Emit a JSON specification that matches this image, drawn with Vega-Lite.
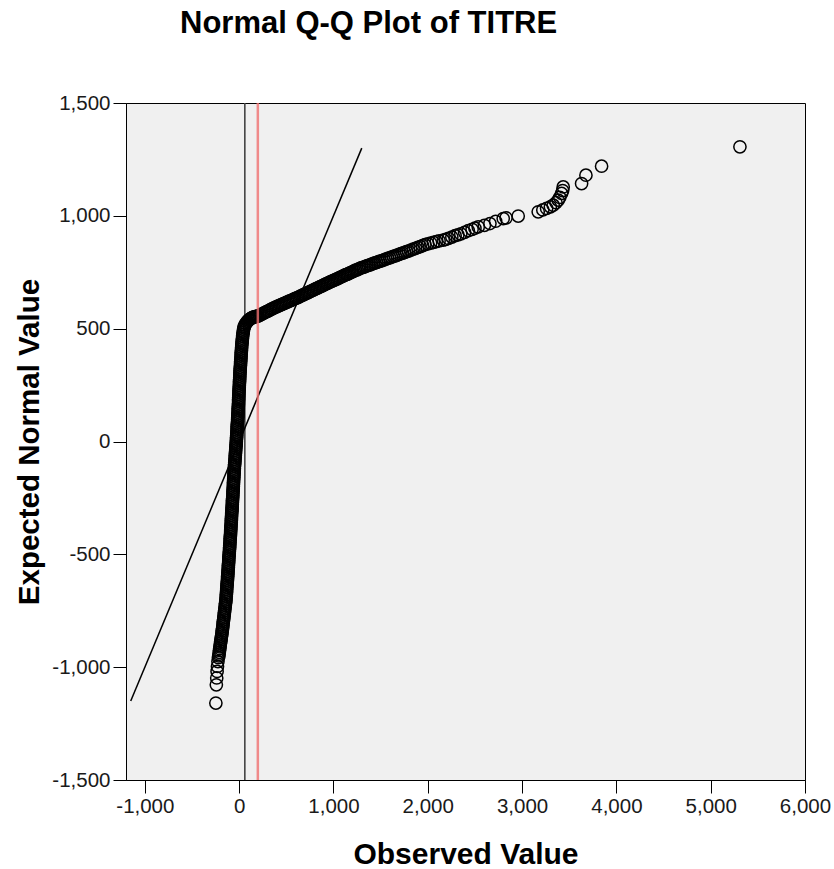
{
  "$schema": "https://vega.github.io/schema/vega-lite/v6.json",
  "width": 679,
  "height": 677,
  "autosize": "none",
  "padding": {"left": 126, "top": 103, "right": 29, "bottom": 89},
  "background": "white",
  "config": {
    "view": {"fill": "#f0f0f0", "stroke": "black", "strokeWidth": 1},
    "font": "Liberation Sans"
  },
  "title": {
    "text": "Normal Q-Q Plot of TITRE",
    "anchor": "start",
    "frame": "group",
    "dx": 54,
    "fontSize": 31,
    "font": "Liberation Sans",
    "fontWeight": "bold",
    "color": "black",
    "offset": 53,
    "baseline": "top"
  },
  "datasets": {
    "qq": [
      {"obs":-247,"exp":-1159},{"obs":-242,"exp":-1078},{"obs":-238,"exp":-1048},{"obs":-234,"exp":-1019},{"obs":-230,"exp":-997},{"obs":-225,"exp":-975},{"obs":-220,"exp":-958},{"obs":-216,"exp":-950},
      {"obs":-213,"exp":-942},{"obs":-211,"exp":-934},{"obs":-208,"exp":-926},{"obs":-206,"exp":-918},{"obs":-203,"exp":-910},{"obs":-201,"exp":-902},
      {"obs":-198,"exp":-894},{"obs":-195,"exp":-886},{"obs":-192,"exp":-878},{"obs":-190,"exp":-870},{"obs":-187,"exp":-862},{"obs":-184,"exp":-854},
      {"obs":-181,"exp":-846},{"obs":-179,"exp":-838},{"obs":-177,"exp":-830},{"obs":-174,"exp":-822},{"obs":-172,"exp":-814},{"obs":-170,"exp":-806},{"obs":-168,"exp":-798},
      {"obs":-165,"exp":-790},{"obs":-163,"exp":-782},{"obs":-161,"exp":-774},{"obs":-158,"exp":-766},{"obs":-156,"exp":-758},{"obs":-154,"exp":-750},{"obs":-152,"exp":-742},{"obs":-149,"exp":-734},{"obs":-147,"exp":-726},{"obs":-145,"exp":-718},{"obs":-142,"exp":-710},{"obs":-140,"exp":-702},
      {"obs":-139,"exp":-694},{"obs":-137,"exp":-686},{"obs":-136,"exp":-678},{"obs":-134,"exp":-670},{"obs":-133,"exp":-662},{"obs":-132,"exp":-654},{"obs":-130,"exp":-646},{"obs":-129,"exp":-638},{"obs":-127,"exp":-630},{"obs":-126,"exp":-622},{"obs":-124,"exp":-614},{"obs":-123,"exp":-606},{"obs":-122,"exp":-598},
      {"obs":-120,"exp":-590},{"obs":-119,"exp":-582},{"obs":-118,"exp":-574},{"obs":-117,"exp":-566},{"obs":-115,"exp":-558},{"obs":-114,"exp":-550},{"obs":-113,"exp":-542},{"obs":-111,"exp":-534},{"obs":-110,"exp":-526},{"obs":-109,"exp":-518},{"obs":-108,"exp":-510},{"obs":-106,"exp":-502},
      {"obs":-105,"exp":-494},{"obs":-104,"exp":-486},{"obs":-102,"exp":-478},{"obs":-101,"exp":-470},{"obs":-100,"exp":-462},{"obs":-99,"exp":-454},{"obs":-97,"exp":-446},{"obs":-96,"exp":-438},{"obs":-95,"exp":-430},{"obs":-94,"exp":-422},{"obs":-92,"exp":-414},{"obs":-91,"exp":-406},
      {"obs":-90,"exp":-398},{"obs":-89,"exp":-390},{"obs":-88,"exp":-382},{"obs":-87,"exp":-374},{"obs":-85,"exp":-366},{"obs":-84,"exp":-358},{"obs":-83,"exp":-350},{"obs":-82,"exp":-342},{"obs":-81,"exp":-334},{"obs":-80,"exp":-326},{"obs":-79,"exp":-318},{"obs":-77,"exp":-310},{"obs":-76,"exp":-302},
      {"obs":-75,"exp":-294},{"obs":-74,"exp":-286},{"obs":-73,"exp":-278},{"obs":-72,"exp":-270},{"obs":-71,"exp":-262},{"obs":-70,"exp":-254},{"obs":-68,"exp":-246},{"obs":-67,"exp":-238},{"obs":-66,"exp":-230},{"obs":-65,"exp":-222},{"obs":-64,"exp":-214},{"obs":-63,"exp":-206},{"obs":-62,"exp":-198},
      {"obs":-61,"exp":-190},{"obs":-60,"exp":-182},{"obs":-59,"exp":-174},{"obs":-58,"exp":-166},{"obs":-56,"exp":-158},{"obs":-55,"exp":-150},{"obs":-54,"exp":-142},{"obs":-53,"exp":-134},{"obs":-52,"exp":-126},{"obs":-51,"exp":-118},{"obs":-50,"exp":-110},
      {"obs":-48,"exp":-102},{"obs":-47,"exp":-94},{"obs":-45,"exp":-86},{"obs":-44,"exp":-78},{"obs":-42,"exp":-70},{"obs":-41,"exp":-62},{"obs":-40,"exp":-54},{"obs":-38,"exp":-46},{"obs":-37,"exp":-38},{"obs":-35,"exp":-30},{"obs":-34,"exp":-22},{"obs":-32,"exp":-14},{"obs":-31,"exp":-6},{"obs":-30,"exp":2},
      {"obs":-29,"exp":10},{"obs":-27,"exp":18},{"obs":-26,"exp":26},{"obs":-25,"exp":34},{"obs":-24,"exp":42},{"obs":-23,"exp":50},{"obs":-22,"exp":58},{"obs":-21,"exp":66},{"obs":-20,"exp":74},{"obs":-19,"exp":82},{"obs":-17,"exp":90},{"obs":-16,"exp":98},
      {"obs":-15,"exp":106},{"obs":-14,"exp":114},{"obs":-13,"exp":122},{"obs":-12,"exp":130},{"obs":-11,"exp":138},{"obs":-10,"exp":146},{"obs":-9,"exp":154},{"obs":-8,"exp":162},{"obs":-7,"exp":170},{"obs":-6,"exp":178},
      {"obs":-6,"exp":186},{"obs":-5,"exp":194},{"obs":-4,"exp":202},{"obs":-3,"exp":210},{"obs":-2,"exp":218},{"obs":-1,"exp":226},{"obs":0,"exp":234},{"obs":1,"exp":242},{"obs":2,"exp":250},{"obs":3,"exp":258},{"obs":4,"exp":266},{"obs":5,"exp":274},{"obs":6,"exp":282},{"obs":7,"exp":290},{"obs":8,"exp":298},
      {"obs":9,"exp":306},{"obs":10,"exp":314},{"obs":11,"exp":322},{"obs":12,"exp":330},{"obs":14,"exp":338},{"obs":15,"exp":346},{"obs":16,"exp":354},{"obs":17,"exp":362},{"obs":19,"exp":370},{"obs":20,"exp":378},{"obs":21,"exp":386},{"obs":22,"exp":394},{"obs":24,"exp":402},
      {"obs":25,"exp":410},{"obs":26,"exp":418},{"obs":28,"exp":426},{"obs":30,"exp":434},{"obs":31,"exp":442},{"obs":33,"exp":450},{"obs":35,"exp":458},
      {"obs":37,"exp":466},{"obs":39,"exp":474},{"obs":42,"exp":482},{"obs":45,"exp":490},{"obs":47,"exp":498},
      {"obs":51,"exp":504},{"obs":55,"exp":510},{"obs":60,"exp":516},
      {"obs":70,"exp":522},{"obs":80,"exp":528},{"obs":90,"exp":533},{"obs":100,"exp":538},{"obs":110,"exp":541},{"obs":120,"exp":544},{"obs":130,"exp":547},{"obs":140,"exp":549},{"obs":150,"exp":551},{"obs":160,"exp":552},{"obs":170,"exp":553},{"obs":180,"exp":554},{"obs":190,"exp":555},{"obs":200,"exp":556},
      {"obs":215,"exp":559},{"obs":230,"exp":562},{"obs":245,"exp":565},{"obs":260,"exp":569},{"obs":275,"exp":572},{"obs":290,"exp":575},{"obs":305,"exp":578},{"obs":320,"exp":581},{"obs":335,"exp":585},{"obs":350,"exp":588},{"obs":365,"exp":591},{"obs":380,"exp":594},{"obs":395,"exp":597},
      {"obs":410,"exp":600},{"obs":425,"exp":602},{"obs":440,"exp":605},{"obs":455,"exp":608},{"obs":470,"exp":611},{"obs":485,"exp":613},{"obs":500,"exp":616},{"obs":515,"exp":619},{"obs":530,"exp":622},{"obs":545,"exp":624},{"obs":560,"exp":627},{"obs":575,"exp":630},{"obs":590,"exp":633},{"obs":605,"exp":635},{"obs":620,"exp":638},
      {"obs":635,"exp":641},{"obs":650,"exp":644},{"obs":665,"exp":647},{"obs":680,"exp":650},{"obs":695,"exp":653},{"obs":710,"exp":656},{"obs":725,"exp":659},{"obs":740,"exp":662},{"obs":755,"exp":665},{"obs":770,"exp":668},{"obs":785,"exp":671},{"obs":800,"exp":674},{"obs":815,"exp":677},{"obs":830,"exp":680},{"obs":845,"exp":683},{"obs":860,"exp":686},{"obs":875,"exp":689},{"obs":890,"exp":692},
      {"obs":905,"exp":695},{"obs":920,"exp":698},{"obs":935,"exp":701},{"obs":950,"exp":704},{"obs":965,"exp":707},{"obs":980,"exp":710},{"obs":995,"exp":713},{"obs":1010,"exp":715},{"obs":1025,"exp":718},{"obs":1040,"exp":721},{"obs":1055,"exp":724},{"obs":1070,"exp":727},{"obs":1085,"exp":730},{"obs":1100,"exp":733},
      {"obs":1115,"exp":736},{"obs":1130,"exp":739},{"obs":1145,"exp":741},{"obs":1160,"exp":744},{"obs":1175,"exp":747},{"obs":1190,"exp":750},{"obs":1205,"exp":753},{"obs":1220,"exp":756},{"obs":1235,"exp":759},{"obs":1250,"exp":761},{"obs":1265,"exp":764},{"obs":1280,"exp":767},
      {"obs":1298,"exp":770},{"obs":1316,"exp":772},{"obs":1334,"exp":775},{"obs":1352,"exp":778},{"obs":1370,"exp":780},{"obs":1388,"exp":783},{"obs":1406,"exp":786},{"obs":1424,"exp":789},{"obs":1442,"exp":791},{"obs":1460,"exp":794},{"obs":1478,"exp":797},{"obs":1496,"exp":799},
      {"obs":1515,"exp":802},{"obs":1535,"exp":805},{"obs":1555,"exp":808},{"obs":1575,"exp":811},{"obs":1595,"exp":814},{"obs":1615,"exp":817},{"obs":1635,"exp":820},{"obs":1655,"exp":823},{"obs":1675,"exp":826},{"obs":1695,"exp":829},{"obs":1715,"exp":832},{"obs":1735,"exp":835},{"obs":1755,"exp":838},{"obs":1775,"exp":841},{"obs":1795,"exp":844},
      {"obs":1820,"exp":848},{"obs":1845,"exp":852},{"obs":1870,"exp":856},{"obs":1895,"exp":860},{"obs":1920,"exp":864},{"obs":1945,"exp":868},{"obs":1970,"exp":872},
      {"obs":2000,"exp":876},{"obs":2030,"exp":879},{"obs":2060,"exp":882},{"obs":2090,"exp":886},{"obs":2120,"exp":889},{"obs":2164,"exp":892},{"obs":2190,"exp":896},{"obs":2220,"exp":900},{"obs":2255,"exp":906},{"obs":2290,"exp":912},{"obs":2320,"exp":916},{"obs":2350,"exp":920},
      {"obs":2390,"exp":927},{"obs":2430,"exp":934},{"obs":2470,"exp":940},{"obs":2500,"exp":945},{"obs":2535,"exp":951},
      {"obs":2600,"exp":958},{"obs":2659,"exp":966},{"obs":2720,"exp":976},{"obs":2800,"exp":988},{"obs":2830,"exp":991},{"obs":2959,"exp":999},{"obs":3171,"exp":1018},{"obs":3220,"exp":1026},{"obs":3260,"exp":1033},{"obs":3300,"exp":1040},{"obs":3330,"exp":1047},{"obs":3360,"exp":1058},{"obs":3383,"exp":1070},{"obs":3400,"exp":1082},{"obs":3419,"exp":1099},{"obs":3430,"exp":1112},{"obs":3436,"exp":1128},{"obs":3631,"exp":1143},{"obs":3677,"exp":1180},{"obs":3843,"exp":1220},{"obs":5310,"exp":1306}
    ],
    "diag": [{"obs": -1150, "exp": -1150}, {"obs": 1300, "exp": 1300}],
    "zeroref": [{"obs": 60}],
    "meanref": [{"obs": 198}]
  },
  "encoding": {
    "x": {
      "field": "obs",
      "type": "quantitative",
      "scale": {"domain": [-1200, 6000], "nice": false, "zero": false},
      "axis": {
        "title": "Observed Value",
        "values": [-1000, 0, 1000, 2000, 3000, 4000, 5000, 6000],
        "labelExpr": "replace(format(datum.value, ','), '\u2212', '-')",
        "grid": false,
        "labelFlush": false,
        "labelOverlap": false,
        "tickSize": 13,
        "tickColor": "black",
        "domainColor": "black",
        "labelPadding": 3,
        "labelFont": "Liberation Sans",
        "labelFontSize": 20.5,
        "labelColor": "#1a1a1a",
        "titleFont": "Liberation Sans",
        "titleFontSize": 30,
        "titleFontWeight": "bold",
        "titleColor": "black",
        "titleY": 83,
        "titleBaseline": "alphabetic"
      }
    },
    "y": {
      "field": "exp",
      "type": "quantitative",
      "scale": {"domain": [-1500, 1500], "nice": false, "zero": false},
      "axis": {
        "title": "Expected Normal Value",
        "values": [-1500, -1000, -500, 0, 500, 1000, 1500],
        "labelExpr": "replace(format(datum.value, ','), '\u2212', '-')",
        "grid": false,
        "labelOverlap": false,
        "labelFlush": false,
        "tickSize": 13,
        "tickColor": "black",
        "domainColor": "black",
        "labelPadding": 3,
        "labelFont": "Liberation Sans",
        "labelFontSize": 20.5,
        "labelColor": "#1a1a1a",
        "titleFont": "Liberation Sans",
        "titleFontSize": 29.5,
        "titleFontWeight": "bold",
        "titleColor": "black",
        "titleAngle": -90,
        "titleX": -88,
        "titleY": 338.5,
        "titleAlign": "center",
        "titleBaseline": "alphabetic"
      }
    }
  },
  "layer": [
    {
      "data": {"name": "zeroref"},
      "mark": {"type": "rule", "color": "#444444", "strokeWidth": 1.6},
      "encoding": {"y": null}
    },
    {
      "data": {"name": "diag"},
      "mark": {"type": "line", "color": "black", "strokeWidth": 1.5}
    },
    {
      "data": {"name": "qq"},
      "mark": {"type": "point", "shape": "circle", "filled": false, "color": "black", "size": 150, "strokeWidth": 1.5, "opacity": 1}
    },
    {
      "data": {"name": "meanref"},
      "mark": {"type": "rule", "color": "#f07070", "strokeWidth": 2.5, "opacity": 0.8},
      "encoding": {"y": null}
    }
  ]
}
